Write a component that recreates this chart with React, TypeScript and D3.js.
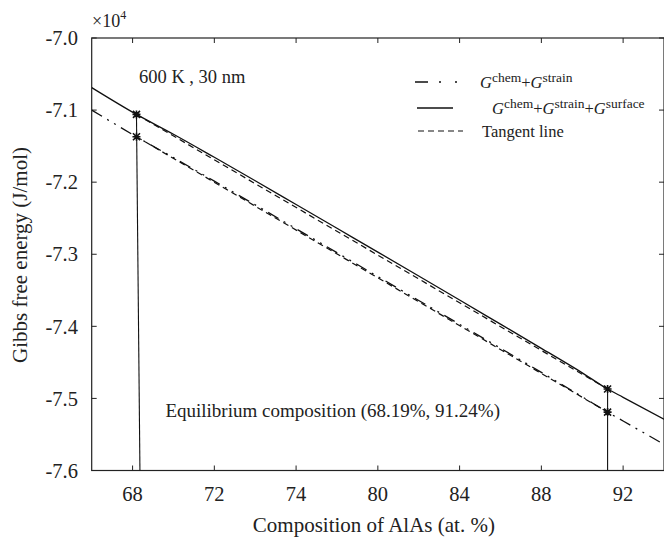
import React from 'react';
import * as d3 from 'd3';

// Composition of AlAs (at. %)
const compX = [66, 68.19, 70, 72, 74, 76, 78, 80, 82, 84, 86, 88, 90, 91.24, 92, 94];
// G^chem + G^strain + G^surface (x10^4 J/mol)
const gSurface = [-7.0688, -7.106, -7.1335, -7.1655, -7.198, -7.231, -7.264, -7.297, -7.3302, -7.3635, -7.397, -7.4305, -7.4645, -7.487, -7.4985, -7.529];
// G^chem + G^strain (x10^4 J/mol)
const gChemStrain = [-7.1, -7.137, -7.166, -7.1986, -7.2315, -7.2646, -7.2978, -7.3309, -7.3641, -7.3972, -7.4304, -7.4639, -7.4977, -7.519, -7.5313, -7.5638];
// equilibrium compositions and tangent points
const eqComp = [68.19, 91.24];
const tangentUpper = [-7.106, -7.487];
const tangentLower = [-7.137, -7.519];
const dropBottomX = [68.36, 91.24];

const xTicks = [68, 72, 76, 80, 84, 88, 92];
const xTickLabels = ['68', '72', '74', '80', '84', '88', '92'];
const yTicks = [-7.0, -7.1, -7.2, -7.3, -7.4, -7.5, -7.6];
const yTickLabels = ['-7.0', '-7.1', '-7.2', '-7.3', '-7.4', '-7.5', '-7.6'];

const W = 664;
const H = 539;
const L = 91.7, R = 664, T = 38, B = 470.5;
const ts = { fontFamily: "'Liberation Serif'" } as React.CSSProperties;

export default function App() {
  const x = d3.scaleLinear().domain([66, 94]).range([L, R]);
  const y = d3.scaleLinear().domain([-7.6, -7.0]).range([B, T]);
  const line = d3.line<[number, number]>().x(d => x(d[0])).y(d => y(d[1])).curve(d3.curveMonotoneX);
  const lin = d3.line<[number, number]>().x(d => x(d[0])).y(d => y(d[1]));

  const surfPts = compX.map((c, i) => [c, gSurface[i]] as [number, number]);
  const csPts = compX.map((c, i) => [c, gChemStrain[i]] as [number, number]);
  const tanU = eqComp.map((c, i) => [c, tangentUpper[i]] as [number, number]);
  const tanL = eqComp.map((c, i) => [c, tangentLower[i]] as [number, number]);

  const stars: [number, number][] = [
    [eqComp[0], tangentUpper[0]], [eqComp[0], tangentLower[0]],
    [eqComp[1], tangentUpper[1]], [eqComp[1], tangentLower[1]],
  ];
  const dashDot = '12,6,2,6,2,6';
  const dashed = '6,4';
  const tick = 5;
  const sup = 13.5;

  return (
    <div style={{ position: 'absolute', left: 0, top: 0 }}>
      <svg width={W} height={H} style={{ display: 'block', background: '#fff' }}>
        <defs>
          <clipPath id="plot"><rect x={L} y={T} width={R - L} height={B - T} /></clipPath>
        </defs>
        {/* frame */}
        <rect x={L} y={T} width={R - L} height={B - T} fill="none" stroke="#222" strokeWidth={1.2} />
        {xTicks.map(v => (
          <g key={'xt' + v}>
            <line x1={x(v)} x2={x(v)} y1={B} y2={B - tick} stroke="#222" strokeWidth={1} />
            <line x1={x(v)} x2={x(v)} y1={T} y2={T + tick} stroke="#222" strokeWidth={1} />
          </g>
        ))}
        {yTicks.map(v => (
          <g key={'yt' + v}>
            <line x1={L} x2={L + tick} y1={y(v)} y2={y(v)} stroke="#222" strokeWidth={1} />
            <line x1={R} x2={R - tick} y1={y(v)} y2={y(v)} stroke="#222" strokeWidth={1} />
          </g>
        ))}
        {xTicks.map((v, i) => (
          <text key={'xl' + v} style={ts} x={x(v)} y={501} fontSize={20.5} textAnchor="middle" fill="#222">{xTickLabels[i]}</text>
        ))}
        {yTicks.map((v, i) => (
          <text key={'yl' + v} style={ts} x={78} y={y(v)} dy="0.35em" fontSize={20.5} textAnchor="end" fill="#222">{yTickLabels[i]}</text>
        ))}
        <text style={ts} x={92} y={27} fontSize={18} fill="#222">×10<tspan dy={-8} fontSize={12}>4</tspan></text>
        <text style={ts} x={(L + R) / 2 - 4} y={532} fontSize={21} textAnchor="middle" fill="#222">Composition of AlAs (at. %)</text>
        <text style={ts} transform={`translate(26.5,255) rotate(-90)`} fontSize={21} textAnchor="middle" fill="#222">Gibbs free energy (J/mol)</text>

        <g clipPath="url(#plot)" fill="none">
          <path d={line(csPts) || ''} stroke="#111" strokeWidth={1.3} strokeDasharray={dashDot} />
          <path d={line(surfPts) || ''} stroke="#111" strokeWidth={1.3} />
          <path d={lin(tanU) || ''} stroke="#111" strokeWidth={1.2} strokeDasharray={dashed} />
          <path d={lin(tanL) || ''} stroke="#111" strokeWidth={1.2} strokeDasharray={dashed} />
          {eqComp.map((c, i) => (
            <line key={'v' + i} x1={x(c)} y1={y(tangentUpper[i])} x2={x(dropBottomX[i])} y2={B} stroke="#111" strokeWidth={1.1} />
          ))}
        </g>
        {stars.map((s, i) => (
          <path key={'s' + i} transform={`translate(${x(s[0])},${y(s[1])})`}
            d="M-3.5,-3.5L3.5,3.5M-3.5,3.5L3.5,-3.5M0,-4L0,4M-4,0L4,0" stroke="#111" strokeWidth={1.6} fill="none" />
        ))}

        <text style={ts} x={139} y={83} fontSize={18.5} fill="#222">600 K , 30 nm</text>
        <text style={ts} x={500} y={417} fontSize={19} textAnchor="end" fill="#222">Equilibrium composition (68.19%, 91.24%)</text>

        {/* legend */}
        <line x1={415} x2={463} y1={82} y2={82} stroke="#111" strokeWidth={1.3} strokeDasharray="13,11,2,14,2,20" />
        <text style={ts} x={480} y={88} fontSize={16.5} fill="#222">
          <tspan fontStyle="italic">G</tspan><tspan dy={-6} fontSize={sup}>chem</tspan><tspan dy={6}>+</tspan><tspan fontStyle="italic">G</tspan><tspan dy={-6} fontSize={sup}>strain</tspan>
        </text>
        <line x1={417} x2={453} y1={108} y2={108} stroke="#111" strokeWidth={1.3} />
        <text style={ts} x={492} y={114} fontSize={16.5} fill="#222">
          <tspan fontStyle="italic">G</tspan><tspan dy={-6} fontSize={sup}>chem</tspan><tspan dy={6}>+</tspan><tspan fontStyle="italic">G</tspan><tspan dy={-6} fontSize={sup}>strain</tspan><tspan dy={6}>+</tspan><tspan fontStyle="italic">G</tspan><tspan dy={-6} fontSize={sup}>surface</tspan>
        </text>
        <line x1={418} x2={463} y1={131} y2={131} stroke="#111" strokeWidth={1.2} strokeDasharray={dashed} />
        <text style={ts} x={482} y={137} fontSize={16.5} fill="#222">Tangent line</text>
      </svg>
    </div>
  );
}
